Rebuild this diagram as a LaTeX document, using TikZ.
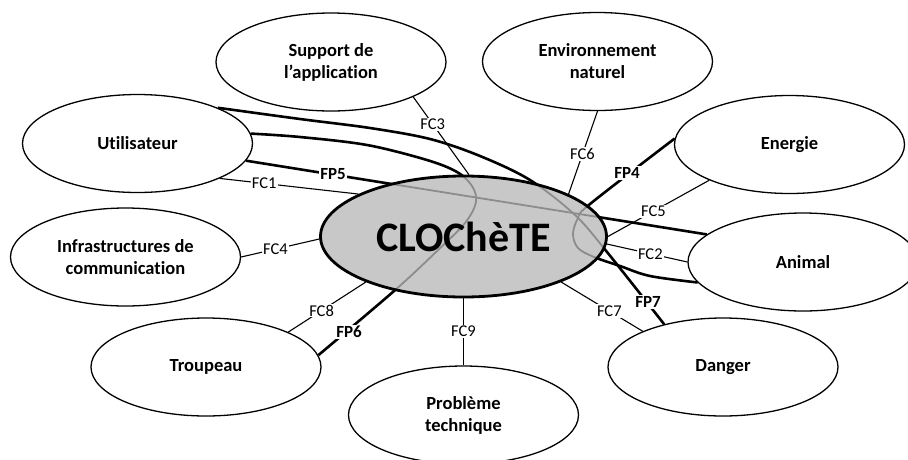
\documentclass[tikz,border=0pt]{standalone}
\usepackage{fontspec}
\setmainfont{Carlito}[Ligatures=NoCommon]
\usetikzlibrary{shapes.geometric}
\definecolor{sysfill}{RGB}{200,200,200}
\definecolor{insideline}{RGB}{140,140,140}

\begin{document}
\begin{tikzpicture}[x=1pt,y=-1pt,
  actor/.style={ellipse, draw, line width=1.3pt, fill=white,
    minimum width=230pt, minimum height=98pt, inner sep=0pt, align=center,
    font=\fontsize{18.5}{22}\selectfont\bfseries},
  system/.style={ellipse, line width=2.8pt,
    minimum width=286pt, minimum height=121pt, inner sep=0pt,
    font=\fontsize{42}{48}\selectfont\bfseries},
  fc/.style={line width=1.1pt},
  fp/.style={line width=2.6pt},
  inside/.style={draw=insideline, line width=1.8pt},
  lab/.style={fill=white, inner sep=1.2pt, font=\fontsize{16.5}{18}\selectfont},
  labfp/.style={fill=white, inner sep=1.2pt, font=\fontsize{17}{18}\selectfont\bfseries}
]
\useasboundingbox (0,0) rectangle (908,459);

% surrounding elements
\node[actor] (u)   at (137.5,143.5) {Utilisateur};
\node[actor] (sup) at (331,62)      {Support de\\l’application};
\node[actor] (env) at (597.5,61.5)  {Environnement\\naturel};
\node[actor] (ene) at (789.5,144.5) {Energie};
\node[actor] (inf) at (125.5,257)   {Infrastructures de\\communication};
\node[actor] (ani) at (803,262)     {Animal};
\node[actor] (tro) at (206,367)     {Troupeau};
\node[actor] (pb)  at (463.5,415)   {Problème\\technique};
\node[actor] (dan) at (723,367)     {Danger};

% principal functions: routes through the system
\path[save path=\routefive] (u.-9.1) -- (ani.164.8);
\path[save path=\routeseven] plot[smooth, tension=0.55] coordinates
  {(u.24.1) (300,119) (370,128) (430,139) (480,156) (530,180) (575,215) (607,252) (dan.144.7)};
\path[save path=\routesix] plot[smooth, tension=0.55] coordinates
  {(u.5.2) (300,137) (367,145) (427,160) (457,172) (472,186) (476,202) (465,223) (436,252) (394,291) (tro.6.7)};
\path[save path=\routefour] plot[smooth, tension=0.55] coordinates
  {(ene.177.7) (590,204) (578,218) (573,234) (578,248) (594,257) (620,266) (650,276) (ani.-169.5)};

\draw[fp, use path=\routefive];
\draw[fp, use path=\routeseven];
\draw[fp, use path=\routesix];
\draw[fp, use path=\routefour];

% the system itself
\node[system, fill=sysfill] (cl) at (463.5,236.5) {};
\begin{scope}
  \clip (463.5,236.5) ellipse [x radius=143pt, y radius=60.5pt];
  \draw[inside, use path=\routefive];
  \draw[inside, use path=\routeseven];
  \draw[inside, use path=\routesix];
  \draw[inside, use path=\routefour];
\end{scope}

\node[labfp] (lfp5) at (333,174) {FP5};
\node[labfp] (lfp4) at (627,173) {FP4};
\node[labfp] (lfp6) at (349,332) {FP6};
\node[labfp] (lfp7) at (648,302) {FP7};

% constraint functions
\draw[fc] (u.-23.5)   -- node[lab, pos=0.32] (l1) {FC1} (cl.158.6);
\draw[fc] (sup.-23.7) -- node[lab, pos=0.35] (l3) {FC3} (cl.85.3);
\draw[fc] (env.-90.5) -- node[lab, pos=0.52] (l6) {FC6} (cl.22.9);
\draw[fc] (ene.-156.5)-- node[lab, pos=0.55] (l5) {FC5} (cl.0);
\draw[fc] (ani.180)   -- node[lab, pos=0.46] (l2) {FC2} (cl.-3);
\draw[fc] (dan.156.6) -- node[lab, pos=0.41] (l7) {FC7} (cl.-25);
\draw[fc] (pb.90)     -- node[lab, pos=0.51] (l9) {FC9} (cl.-90);
\draw[fc] (tro.23.7)  -- node[lab, pos=0.43] (l8) {FC8} (cl.205.9);
\draw[fc] (inf.0)     -- node[lab, pos=0.44] (l4) {FC4} (cl.181);

\node[system, draw] (clt) at (cl) {CLOChèTE};
\end{tikzpicture}
\end{document}
